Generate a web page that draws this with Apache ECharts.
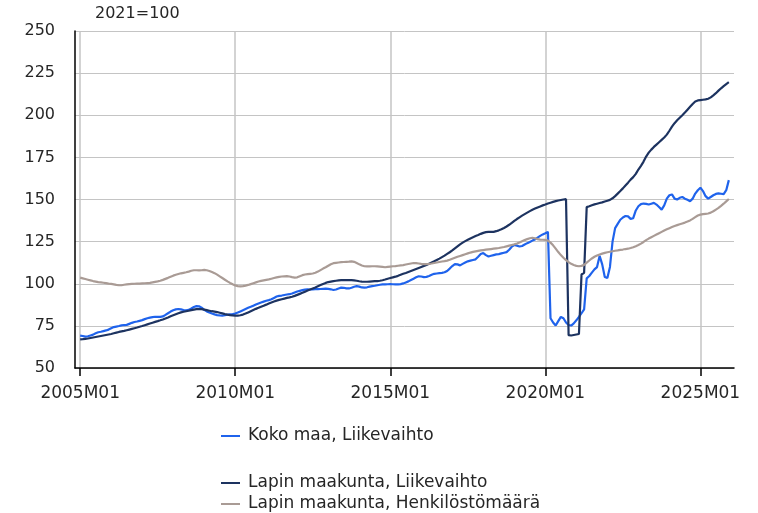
<!DOCTYPE html>
<html>
<head>
<meta charset="utf-8">
<script src="https://cdn.jsdelivr.net/npm/echarts@6/dist/echarts.min.js"></script>
<style>
  html, body { margin: 0; padding: 0; background: #ffffff; }
  #chart { width: 758px; height: 513px; }
</style>
</head>
<body>
<div id="chart"></div>
<script>
// Monthly index series, 2021 = 100, from 2005M01 to 2025M12
const seriesNames = [
  'Koko maa, Liikevaihto',
  'Lapin maakunta, Liikevaihto',
  'Lapin maakunta, Henkilöstömäärä'
];

const kokoMaaLiikevaihto = [
  69.2, 69.0, 68.6, 68.8, 69.3, 69.8, 70.6, 71.2, 71.5, 71.9, 72.3, 72.8,
  73.6, 74.3, 74.6, 74.9, 75.3, 75.5, 75.6, 76.2, 76.8, 77.3, 77.6, 78.0,
  78.4, 79.0, 79.5, 79.9, 80.2, 80.4, 80.4, 80.3, 80.6, 81.5, 82.5, 83.5,
  84.3, 84.8, 85.0, 84.8, 84.4, 84.2, 84.5, 85.3, 86.2, 86.7, 86.6, 85.8,
  84.5, 83.6, 82.9, 82.3, 81.8, 81.4, 81.2, 81.1, 81.3, 81.6, 81.8, 82.0,
  82.3, 82.9, 83.6, 84.3, 85.0, 85.7, 86.3, 87.0, 87.7, 88.3, 88.9, 89.4,
  89.9, 90.3, 90.8, 91.6, 92.4, 92.8, 93.0, 93.3, 93.6, 93.8, 94.2, 94.8,
  95.4, 95.8, 96.2, 96.5, 96.7, 96.6, 96.7, 96.8, 96.8, 96.9, 97.0, 97.1,
  97.0, 96.7, 96.3, 96.6, 97.2, 97.7, 97.6, 97.3, 97.2, 97.6, 98.2, 98.6,
  98.3, 97.8, 97.7, 97.9, 98.3, 98.6, 98.8, 99.1, 99.4, 99.6, 99.6, 99.7,
  99.8, 99.7, 99.6, 99.6, 99.8, 100.2, 100.8, 101.4, 102.2, 103.0, 103.8, 104.4,
  104.3, 103.9, 104.1, 104.6, 105.3, 105.9, 106.1, 106.3, 106.5, 106.8, 107.6, 109.0,
  110.5, 111.7, 111.5, 110.9, 111.8, 112.6, 113.3, 113.7, 114.1, 114.5, 116.0, 117.6,
  118.2, 117.0, 116.2, 116.6, 117.0, 117.4, 117.6, 118.0, 118.4, 118.8, 120.2, 122.0,
  123.0, 122.6, 122.1, 122.4, 123.3, 124.1, 124.8, 125.6, 126.3, 127.4, 128.4, 129.3,
  130.0, 130.8, 79.5, 77.0, 75.2, 77.8, 80.3, 79.5, 77.0, 75.5, 75.2, 76.5,
  78.3, 80.3, 82.5, 84.8, 103.2, 104.6, 106.6, 108.5, 109.9, 116.5, 111.5, 104.0,
  103.4, 110.0, 125.0, 133.0, 135.5, 138.0, 139.3, 140.2, 140.0, 138.5, 138.9, 143.5,
  146.0, 147.3, 147.6, 147.4, 147.0, 147.5, 148.0, 147.0, 145.5, 144.0, 146.5, 150.5,
  152.5, 153.0, 150.5, 150.0, 151.0, 151.5, 150.5, 149.8, 149.0, 150.5, 153.5, 155.5,
  157.0, 155.0, 152.0, 150.5, 151.5, 152.5, 153.3, 153.6, 153.4, 153.2, 155.5, 161.5
];

const lappiLiikevaihto = [
  67.0, 67.1, 67.3, 67.5, 67.8, 68.1, 68.4, 68.7, 69.0, 69.3, 69.6, 69.9,
  70.2, 70.6, 71.0, 71.4, 71.7, 72.0, 72.4, 72.8, 73.2, 73.6, 74.0, 74.5,
  74.9, 75.4, 75.9, 76.4, 76.9, 77.4, 77.8, 78.3, 78.8, 79.4, 80.0, 80.7,
  81.3, 81.9, 82.5, 83.0, 83.4, 83.7, 84.0, 84.3, 84.6, 84.9, 85.0, 84.9,
  84.6, 84.3, 84.0, 83.7, 83.5, 83.2, 82.8, 82.4, 82.0, 81.7, 81.4, 81.2,
  81.1, 81.1, 81.3, 81.7, 82.3, 83.0, 83.7, 84.4, 85.1, 85.7, 86.4, 87.0,
  87.6, 88.3, 88.9, 89.5, 90.0, 90.4, 90.8, 91.2, 91.6, 91.9, 92.3, 92.8,
  93.4, 94.0, 94.6, 95.3, 96.0, 96.6, 97.2, 97.8, 98.5, 99.2, 99.9, 100.5,
  101.0, 101.3, 101.6, 101.8, 102.0, 102.1, 102.2, 102.2, 102.2, 102.1, 102.0, 101.8,
  101.5, 101.3, 101.2, 101.2, 101.3, 101.4, 101.5, 101.6, 101.8, 102.1, 102.5, 103.0,
  103.4, 103.8, 104.2, 104.7, 105.3, 105.9, 106.4, 107.0, 107.6, 108.2, 108.8, 109.4,
  110.0, 110.6, 111.2, 111.9, 112.6, 113.3, 114.1, 114.9, 115.8, 116.7, 117.7, 118.7,
  119.8, 121.0, 122.2, 123.4, 124.4, 125.3, 126.1, 126.9, 127.6, 128.3, 128.9, 129.6,
  130.2, 130.6, 130.8, 130.8, 130.8, 131.2, 131.7, 132.3, 133.1, 134.0, 135.0, 136.1,
  137.3, 138.4, 139.4, 140.4, 141.3, 142.2, 143.1, 143.9, 144.6, 145.3, 145.9, 146.5,
  147.0, 147.6, 148.1, 148.6, 149.0, 149.4, 149.7, 150.0, 150.2, 69.5, 69.3, 69.6,
  69.9, 70.2, 105.5, 106.5, 145.5, 146.0, 146.6, 147.1, 147.5, 147.9, 148.3, 148.8,
  149.3, 149.8, 150.7, 152.0, 153.5, 155.0, 156.6, 158.3, 160.0, 161.8, 163.3, 165.2,
  167.8, 170.0, 172.5, 175.5, 177.8, 179.6, 181.2, 182.6, 184.0, 185.4, 186.8, 188.5,
  190.8, 193.2, 195.3, 197.0, 198.5, 200.0, 201.6, 203.3, 205.0, 206.7, 208.2, 208.8,
  209.0, 209.2, 209.4, 209.8, 210.6, 211.8, 213.1, 214.6, 216.0, 217.3, 218.5, 219.6
];

const lappiHenkilosto = [
  103.6, 103.2, 102.8, 102.4, 102.0, 101.6, 101.3, 101.0, 100.8, 100.6, 100.4, 100.1,
  99.9, 99.6, 99.3, 99.1, 99.1, 99.4, 99.6, 99.8, 99.9, 100.0, 100.1, 100.1,
  100.2, 100.3, 100.4, 100.5, 100.8, 101.1, 101.4, 101.8, 102.3, 102.9, 103.5, 104.2,
  104.8, 105.3, 105.8, 106.2, 106.5, 106.8, 107.2, 107.7, 108.0, 108.0, 107.9, 108.0,
  108.2, 108.0, 107.6, 107.0, 106.3, 105.4, 104.4, 103.4, 102.4, 101.4, 100.5, 99.7,
  99.0, 98.6, 98.5, 98.6, 98.9, 99.3, 99.8, 100.3, 100.8, 101.3, 101.7, 102.0,
  102.3, 102.6, 103.0, 103.4, 103.8, 104.1, 104.3, 104.4, 104.5, 104.3, 103.9, 103.6,
  103.8, 104.5, 105.1, 105.5, 105.7, 105.9, 106.1, 106.5, 107.2, 108.1, 109.0, 109.8,
  110.7, 111.6, 112.2, 112.4, 112.6, 112.8, 112.9, 113.0, 113.1, 113.3, 113.0, 112.3,
  111.5, 110.8, 110.4, 110.3, 110.3, 110.4, 110.4, 110.3, 110.2, 110.0, 109.8, 110.0,
  110.2, 110.4, 110.5, 110.7, 110.9, 111.1, 111.4, 111.7, 112.0, 112.3, 112.2, 112.0,
  111.8, 111.7, 111.7, 111.8, 112.0, 112.3, 112.6, 112.9, 113.2, 113.4, 113.7, 114.2,
  114.8, 115.4, 116.0, 116.5, 117.0, 117.5, 118.0, 118.5, 118.9, 119.2, 119.5, 119.8,
  120.0, 120.2, 120.4, 120.6, 120.8, 121.0, 121.2, 121.5, 121.8, 122.2, 122.6, 123.0,
  123.4, 123.9, 124.5, 125.2, 125.9, 126.5, 127.0, 127.3, 127.0, 126.5, 126.2, 126.1,
  126.0, 125.6, 124.4, 122.8, 120.8, 118.8, 117.0, 115.4, 114.0, 112.8, 111.8, 111.1,
  110.6, 110.4, 110.6, 111.2, 112.5, 113.8, 115.0, 116.0, 116.8, 117.4, 117.9, 118.3,
  118.7, 119.0, 119.3, 119.6, 119.8, 120.1, 120.3, 120.6, 120.8, 121.2, 121.7, 122.3,
  123.0, 123.8, 124.8, 125.9, 126.8, 127.6, 128.4, 129.2, 130.0, 130.8, 131.6, 132.3,
  133.0, 133.7, 134.3, 134.8, 135.3, 135.8, 136.3, 136.9, 137.6, 138.5, 139.5, 140.5,
  141.0, 141.3, 141.5, 141.7, 142.2, 143.0, 144.0, 145.0, 146.2, 147.5, 148.9, 150.3
];

const seriesColors = ['#1f63ec', '#1d3360', '#a99b95'];
const yTicks = { min: 50, max: 250, step: 25 };
const baseLabel = '2021=100';

// Month categories: two spare months on each side of the data span
const months = [];
for (let y = 2004; y <= 2026; y++) {
  for (let m = 1; m <= 12; m++) {
    if (y === 2004 && m < 11) continue;
    if (y === 2026 && m > 2) continue;
    months.push(y + 'M' + String(m).padStart(2, '0'));
  }
}
const firstDataIndex = months.indexOf('2005M01');
const lead = new Array(firstDataIndex).fill(null);

// Major ticks every fifth January
function isMajor(label) {
  return label.endsWith('M01') && parseInt(label.slice(0, 4), 10) % 5 === 0;
}

const font = 'DejaVu Sans';
const chart = echarts.init(document.getElementById('chart'), null, { renderer: 'canvas' });

const lineSeries = [kokoMaaLiikevaihto, lappiLiikevaihto, lappiHenkilosto].map((vals, i) => ({
  name: seriesNames[i],
  type: 'line',
  data: lead.concat(vals),
  showSymbol: false,
  symbol: 'none',
  connectNulls: false,
  lineStyle: { color: seriesColors[i], width: 2.2 },
  itemStyle: { color: seriesColors[i] },
  emphasis: { disabled: true },
  animation: false
}));

// One legend block per entry so the rows can sit at their own heights
const legendTops = [421, 468, 489];
const legends = seriesNames.map((name, i) => ({
  data: [name],
  orient: 'vertical',
  left: 216,
  top: legendTops[i],
  icon: 'rect',
  itemWidth: 19,
  itemHeight: 2,
  selectedMode: false,
  textStyle: { fontFamily: font, fontSize: 17, color: '#262626', lineHeight: 20, padding: [0, 0, 0, 3] }
}));

chart.setOption({
  backgroundColor: '#ffffff',
  animation: false,
  title: {
    text: baseLabel,
    left: 90,
    top: 1,
    textStyle: { fontFamily: font, fontSize: 16, fontWeight: 'normal', color: '#262626' }
  },
  grid: { left: 75, right: 24, top: 31, bottom: 145, containLabel: false },
  legend: legends,
  xAxis: {
    type: 'category',
    data: months,
    boundaryGap: false,
    axisLine: { show: true, lineStyle: { color: '#000000', width: 1.5 } },
    axisTick: {
      show: true,
      interval: (idx, val) => isMajor(val),
      length: 8,
      lineStyle: { color: '#000000', width: 1.5 }
    },
    axisLabel: {
      interval: (idx, val) => isMajor(val),
      fontFamily: font,
      fontSize: 17,
      color: '#262626',
      margin: 17,
      hideOverlap: false
    },
    splitLine: {
      show: true,
      interval: (idx, val) => isMajor(val),
      lineStyle: { color: '#c4c4c4', width: 1.5 }
    }
  },
  yAxis: {
    type: 'value',
    min: yTicks.min,
    max: yTicks.max,
    interval: yTicks.step,
    axisLine: { show: true, lineStyle: { color: '#000000', width: 1.5 } },
    axisTick: { show: false },
    axisLabel: { fontFamily: font, fontSize: 16, color: '#262626', margin: 20 },
    splitLine: { show: true, lineStyle: { color: '#c4c4c4', width: 1 } }
  },
  series: lineSeries
});
</script>
</body>
</html>
